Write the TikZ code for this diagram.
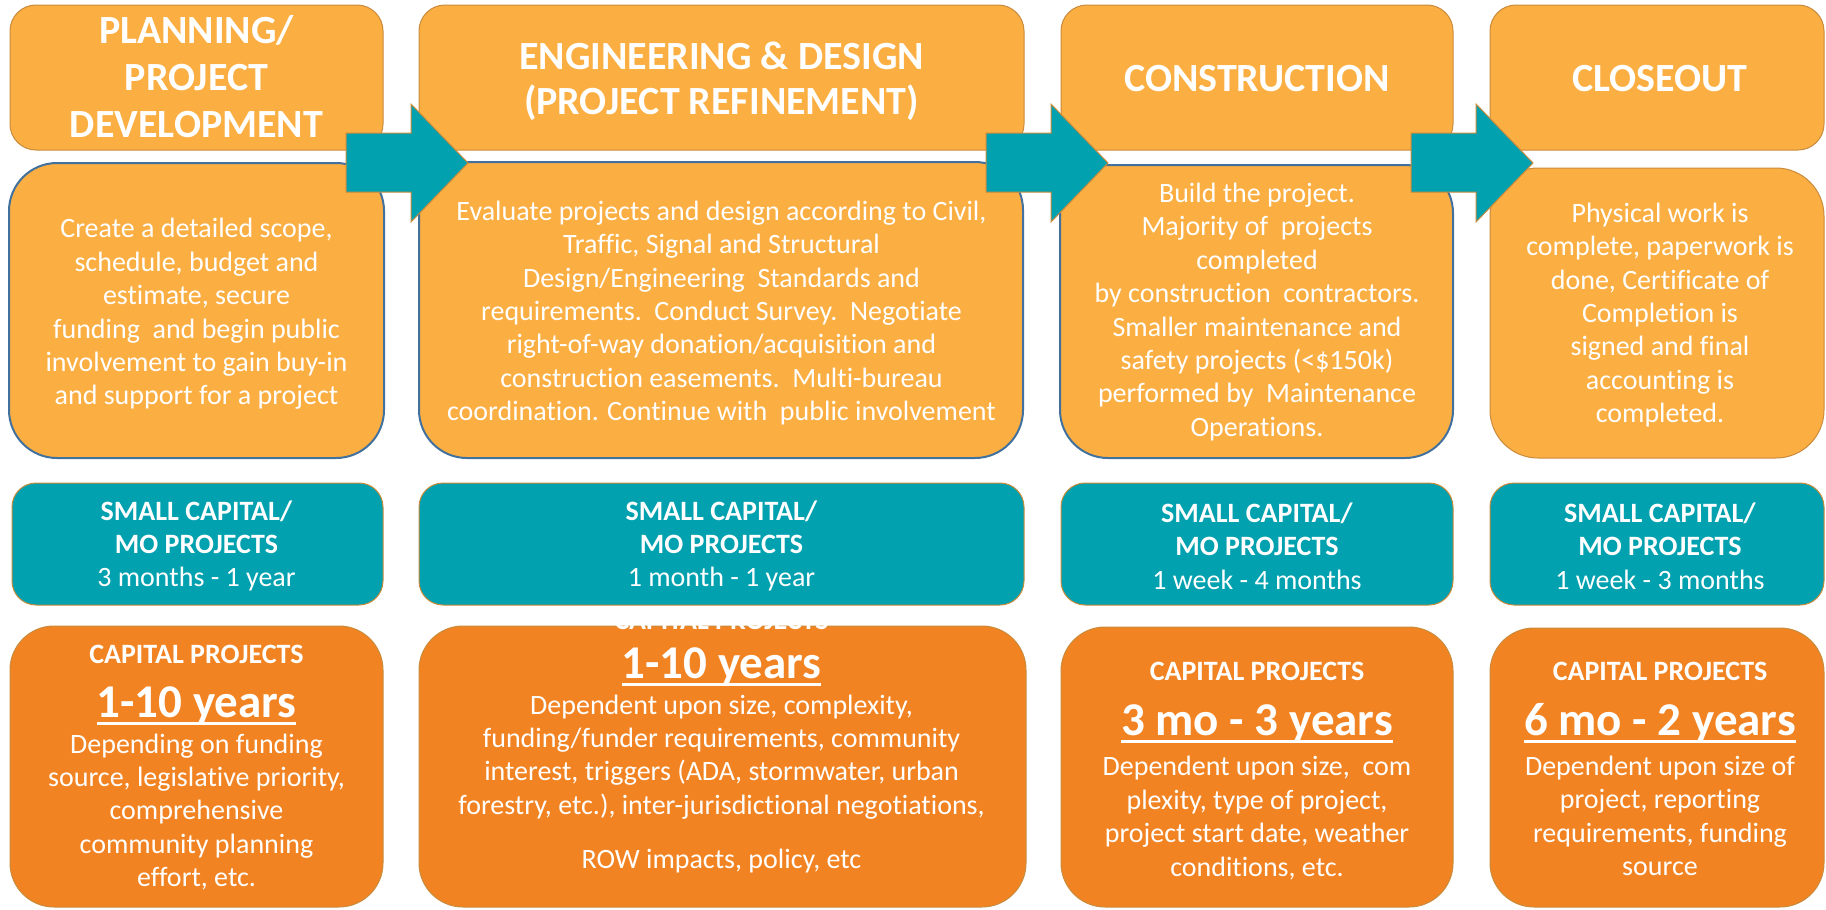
\documentclass[tikz,border=0pt]{standalone}
\usepackage{fontspec}
\setmainfont{Carlito}[Ligatures={NoCommon}]
\definecolor{stagefill}{HTML}{FBAE42}
\definecolor{stageline}{HTML}{C98B3C}
\definecolor{descline}{HTML}{41719C}
\definecolor{smallfill}{HTML}{01A1AF}
\definecolor{capfill}{HTML}{F28322}
\tikzset{
  headbox/.style={fill=stagefill, draw=stageline, line width=0.5pt, rounded corners=13pt},
  descbox/.style={fill=stagefill, draw=descline, line width=1pt, rounded corners=24pt},
  smallbox/.style={fill=smallfill, draw=stageline, line width=0.5pt, rounded corners=12pt},
  capbox/.style={fill=capfill, draw=stageline, line width=0.5pt, rounded corners=22pt},
  stagearrow/.style={fill=smallfill, draw=stageline, line width=0.5pt},
  headtext/.style={text=white, align=center, inner sep=0pt,
    font=\fontsize{20}{23.5}\selectfont\bfseries},
  bodytext/.style={text=white, align=center, inner sep=0pt,
    font=\fontsize{14}{16.7}\selectfont},
  bigtext/.style={text=white, inner sep=0pt,
    font=\fontsize{23.5}{28}\selectfont\bfseries}
}
% underline that sits just under the baseline
\newcommand{\durline}[1]{\setbox0=\hbox{#1}\rlap{\rule[-4pt]{\wd0}{1.4pt}}\box0}

\begin{document}
\begin{tikzpicture}[x=0.5pt, y=-0.5pt]
  \useasboundingbox (0,0) rectangle (1826,910);

  % stage headers
  \draw[headbox] (10,5) rectangle (383,150);
  \draw[headbox] (419,5) rectangle (1024,150);
  \draw[headbox] (1061,5) rectangle (1453,150);
  \draw[headbox] (1490,5) rectangle (1824,150);

  % stage descriptions
  \draw[descbox] (9,163) rectangle (384,458);
  \draw[descbox] (419,162) rectangle (1023,458);
  \draw[descbox] (1060,165) rectangle (1453,458);
  \draw[descbox, draw=stageline, line width=0.5pt] (1490,168) rectangle (1824,458);

  % small capital / MO rows
  \draw[smallbox] (12,483) rectangle (383,605);
  \draw[smallbox] (419,483) rectangle (1024,605);
  \draw[smallbox] (1061,483) rectangle (1453,605);
  \draw[smallbox] (1490,483) rectangle (1824,605);

  % capital project rows
  \draw[capbox] (10,626) rectangle (383,907);
  \draw[capbox] (419,626) rectangle (1026,907);
  \draw[capbox] (1061,627) rectangle (1453,907);
  \draw[capbox] (1490,628) rectangle (1824,907);

  % arrows between stages
  \foreach \ax in {346,986,1411}
    \draw[stagearrow] (\ax,133) -- (\ax+65,133) -- (\ax+65,104) -- (\ax+122,163)
      -- (\ax+65,222) -- (\ax+65,192) -- (\ax,192) -- cycle;

  \node[headtext] (planhead) at (196.5,77) {PLANNING/\\PROJECT\\DEVELOPMENT};
  \node[headtext, font=\fontsize{20}{22.5}\selectfont\bfseries] (enghead) at (721.5,81)
    {ENGINEERING \& DESIGN\\(PROJECT REFINEMENT)};
  \node[headtext] (buildhead) at (1257,79) {CONSTRUCTION};
  \node[headtext] (closehead) at (1660,79) {CLOSEOUT};

  \node[bodytext] (planinfo) at (196.5,314)
    {Create a detailed scope,\\schedule, budget and\\estimate, secure\\
     funding~~and begin public\\involvement to gain buy-in\\and support for a project};
  \node[bodytext] (enginfo) at (721.5,313)
    {Evaluate projects and design according to Civil,\\Traffic, Signal and Structural\\
     Design/Engineering~~Standards and\\requirements.~~Conduct Survey.~~Negotiate\\
     right-of-way donation/acquisition and\\construction easements.~~Multi-bureau\\
     coordination. Continue with~~public involvement};
  \node[bodytext] (buildinfo) at (1257,312)
    {Build the project.\\Majority of~~projects\\completed\\by construction~~contractors.\\
     Smaller maintenance and\\safety projects (<\$150k)\\performed by~~Maintenance\\Operations.};
  \node[bodytext] (closeinfo) at (1660,315)
    {Physical work is\\complete, paperwork is\\done, Certificate of\\Completion is\\
     signed and final\\accounting is\\completed.};

  \node[bodytext] (plansmall) at (196.5,546)
    {\textbf{SMALL CAPITAL/}\\\textbf{MO PROJECTS}\\3 months - 1 year};
  \node[bodytext] (engsmall) at (721.5,546)
    {\textbf{SMALL CAPITAL/}\\\textbf{MO PROJECTS}\\1 month - 1 year};
  \node[bodytext] (buildsmall) at (1257,546)
    {\textbf{SMALL CAPITAL/}\\\textbf{MO PROJECTS}\\1 week - 4 months};
  \node[bodytext] (closesmall) at (1660,546)
    {\textbf{SMALL CAPITAL/}\\\textbf{MO PROJECTS}\\1 week - 3 months};

  % capital projects: heading, duration, reasons
  \node[bodytext, anchor=base] (plancaphd) at (196.5,663) {\textbf{CAPITAL PROJECTS}};
  \node[bigtext, anchor=base] (planyears) at (196.5,717) {\durline{1-10 years}};
  \node[bodytext] (planwhy) at (196.5,812)
    {Depending on funding\\source, legislative priority,\\comprehensive\\
     community planning\\effort, etc.};

  \node[bodytext, anchor=base] (engcaphd) at (721.5,629) {\textbf{CAPITAL PROJECTS}};
  \node[bigtext, anchor=base] (engyears) at (721.5,678) {\durline{1-10 years}};
  \node[bodytext] (engwhy) at (721.5,784)
    {Dependent upon size, complexity,\\funding/funder requirements, community\\
     interest, triggers (ADA, stormwater, urban\\
     forestry, etc.), inter-jurisdictional negotiations,\\[10.5pt]
     ROW impacts, policy, etc};

  \node[bodytext, anchor=base] (buildcaphd) at (1257,680) {\textbf{CAPITAL PROJECTS}};
  \node[bigtext, anchor=base] (buildyears) at (1257,735) {\durline{3 mo - 3 years}};
  \node[bodytext] (buildwhy) at (1257,818)
    {Dependent upon size,~~com\\plexity, type of project,\\project start date, weather\\
     conditions, etc.};

  \node[bodytext, anchor=base] (closecaphd) at (1660,680) {\textbf{CAPITAL PROJECTS}};
  \node[bigtext, anchor=base] (closeyears) at (1660,735) {\durline{6 mo - 2 years}};
  \node[bodytext] (closewhy) at (1660,816)
    {Dependent upon size of\\project, reporting\\requirements, funding\\source};
\end{tikzpicture}
\end{document}
